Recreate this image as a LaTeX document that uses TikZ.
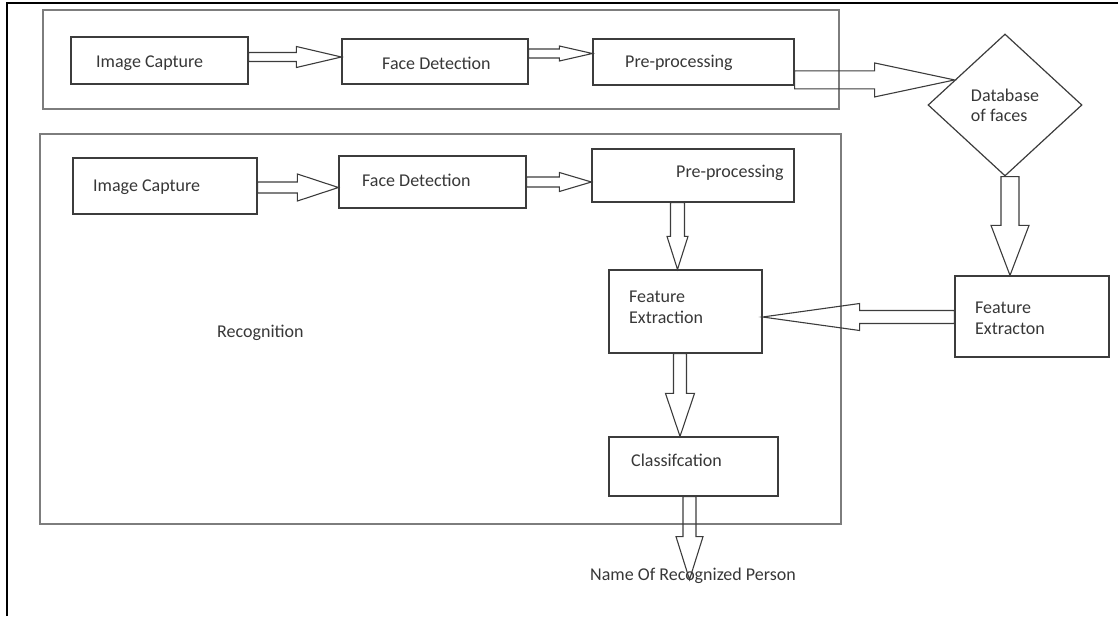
\documentclass[tikz,border=0pt]{standalone}
\usepackage{fontspec}
\setmainfont{Carlito}
\usetikzlibrary{calc,shapes.geometric}
\definecolor{tcol}{RGB}{55,55,55}
\definecolor{lcol}{RGB}{60,60,60}
\definecolor{gcol}{RGB}{125,125,125}
\newcommand\blockarrow[5]{%
  \draw[barrow] let \p1=#1, \p2=#2, \p3=($(\p2)!#5!(\p1)$) in
    ($(\p1)!#3!90:(\p2)$) -- ($(\p3)!#3!-90:(\p1)$) -- ($(\p3)!#4!-90:(\p1)$) -- (\p2)
    -- ($(\p3)!#4!90:(\p1)$) -- ($(\p3)!#3!90:(\p1)$) -- ($(\p1)!#3!-90:(\p2)$) -- cycle;}
\tikzset{
  box/.style={draw=lcol, line width=1.2pt, rectangle, inner sep=0pt},
  grp/.style={draw=gcol, line width=2pt, rectangle, inner sep=0pt},
  barrow/.style={draw=lcol, line width=1.1pt, line join=miter},
  txt/.style={font=\fontsize{18}{21}\selectfont, text=tcol, inner sep=0pt},
  frame/.style={draw=black, line width=2pt}
}
\begin{document}
\begin{tikzpicture}[x=1pt,y=-1pt]
\useasboundingbox (0,0) rectangle (1118,616);
\draw[frame] (7,616) -- (7,3) -- (1118,3);
% group boxes
\node[grp, minimum width=796pt, minimum height=99pt] (grp1) at (441,59.5) {};
\node[grp, minimum width=801pt, minimum height=390pt] (grp2) at (440.5,329) {};
% boxes
\node[box, minimum width=177pt, minimum height=47pt] (ic1) at (159.5,60.5) {};
\node[box, minimum width=186pt, minimum height=45pt] (fd1) at (435,61.5) {};
\node[box, minimum width=201pt, minimum height=46pt] (pp1) at (693.5,62) {};
\node[box, minimum width=184pt, minimum height=56pt] (ic2) at (165,186) {};
\node[box, minimum width=187pt, minimum height=52pt] (fd2) at (432.5,182) {};
\node[box, minimum width=202pt, minimum height=53pt] (pp2) at (693,175.5) {};
\node[box, minimum width=153pt, minimum height=83pt] (fe) at (685.5,311.5) {};
\node[box, minimum width=169pt, minimum height=59pt] (cl) at (693.5,466.5) {};
\node[box, minimum width=154pt, minimum height=81pt] (fe2) at (1032,316.5) {};
\node[diamond, draw=lcol, line width=1.2pt, minimum width=154pt, minimum height=142pt,
      inner sep=0pt, align=left, font=\fontsize{18}{20}\selectfont, text=tcol] (db) at (1005,105) {Database\\of faces};
% arrows
\coordinate (a1) at ($(fd1.west)+(0,-4.5)$);
\blockarrow{(ic1.east|-a1)}{(a1)}{4.5pt}{10.5pt}{45pt}
\coordinate (a2) at ($(pp1.west)+(0,-8.5)$);
\blockarrow{(fd1.east|-a2)}{(a2)}{4.5pt}{7.5pt}{33pt}
\coordinate (a3) at ($(db.west)!0.35!(db.north)$);
\blockarrow{(pp1.east|-a3)}{(a3)}{9pt}{17pt}{80pt}
\coordinate (a4) at ($(fd2.west)+(0,5.5)$);
\blockarrow{(ic2.east|-a4)}{(a4)}{5.5pt}{13.5pt}{41pt}
\coordinate (a5) at ($(pp2.west)+(0,6.5)$);
\blockarrow{(fd2.east|-a5)}{(a5)}{5pt}{9.5pt}{32pt}
\coordinate (a6) at ($(fe.north)+(-8,0)$);
\blockarrow{(a6|-pp2.south)}{(a6)}{7pt}{10.5pt}{33pt}
\coordinate (a7) at ($(cl.north)+(-13.5,0)$);
\blockarrow{(a7|-fe.south)}{(a7)}{6.5pt}{14.5pt}{43pt}
\coordinate (a8) at ($(cl.south)+(-4,83)$);
\blockarrow{(a8|-cl.south)}{(a8)}{6.5pt}{13.5pt}{43pt}
\coordinate (a9) at ($(fe2.north)+(-22,0)$);
\blockarrow{(a9|-db.south)}{(a9)}{9pt}{19pt}{50pt}
\coordinate (a10) at ($(fe.east)+(0,5.5)$);
\blockarrow{(fe2.west|-a10)}{(a10)}{6.5pt}{13.5pt}{97pt}
% texts
\node[txt, anchor=west] (ic1t) at (96,63) {Image Capture};
\node[txt, anchor=west] (fd1t) at (382,63) {Face Detection};
\node[txt, anchor=west] (pp1t) at (625,63) {Pre-processing};
\node[txt, anchor=west] (ic2t) at (93,187) {Image Capture};
\node[txt, anchor=west] (fd2t) at (362,180) {Face Detection};
\node[txt, anchor=west] (pp2t) at (676,173) {Pre-processing};
\node[txt, anchor=west, align=left] (fet) at (629,307.5) {Feature\\Extraction};
\node[txt, anchor=west, align=left] (fe2t) at (975,318.5) {Feature\\Extracton};
\node[txt, anchor=west] (clt) at (631,460) {Classifcation};
\node[txt, anchor=west] (rect) at (217,333) {Recognition};
\node[txt, anchor=west] (namet) at (590,576) {Name Of Recognized Person};
\end{tikzpicture}
\end{document}
